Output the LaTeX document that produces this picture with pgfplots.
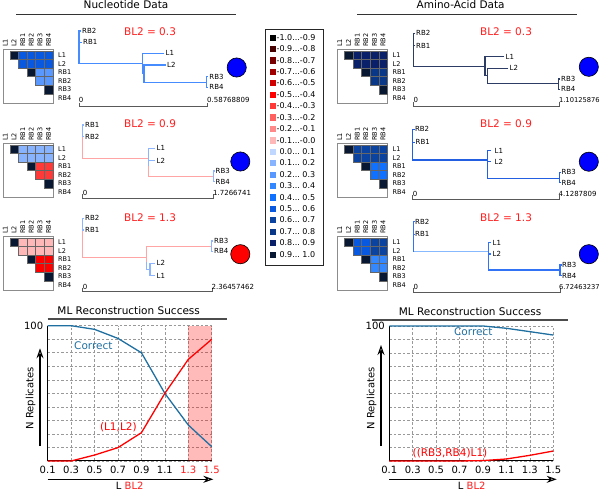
\documentclass[border=0pt]{standalone}
\usepackage{pgfplots}
\pgfplotsset{compat=1.18}
\usepackage{fontspec}
\setmainfont{DejaVu Sans}
\usetikzlibrary{arrows.meta}

% legend / heat colours, from -1.0 (c0) to 1.0 (c19)
\definecolor{c0}{RGB}{0,0,0}
\definecolor{c1}{RGB}{70,0,0}
\definecolor{c2}{RGB}{120,0,0}
\definecolor{c3}{RGB}{160,0,0}
\definecolor{c4}{RGB}{208,0,0}
\definecolor{c5}{RGB}{255,0,0}
\definecolor{c6}{RGB}{255,56,56}
\definecolor{c7}{RGB}{255,96,96}
\definecolor{c8}{RGB}{255,136,136}
\definecolor{c9}{RGB}{255,184,184}
\definecolor{c10}{RGB}{192,216,255}
\definecolor{c11}{RGB}{136,180,255}
\definecolor{c12}{RGB}{88,152,255}
\definecolor{c13}{RGB}{51,136,255}
\definecolor{c14}{RGB}{16,112,255}
\definecolor{c15}{RGB}{8,88,224}
\definecolor{c16}{RGB}{10,68,160}
\definecolor{c17}{RGB}{10,56,136}
\definecolor{c18}{RGB}{10,32,104}
\definecolor{c19}{RGB}{8,24,50}

\definecolor{nb}{RGB}{70,140,255}
\definecolor{nl}{RGB}{140,180,255}
\definecolor{pk}{RGB}{255,165,165}
\definecolor{aa}{RGB}{45,60,100}
\definecolor{ab}{RGB}{35,95,225}
\definecolor{ac}{RGB}{50,115,245}
\definecolor{al}{RGB}{135,185,255}
\definecolor{bred}{RGB}{255,30,30}
\definecolor{tl1}{RGB}{31,111,160}

\newcommand{\fs}[1]{\fontsize{#1}{#1}\selectfont}

\tikzset{
  br/.style={line width=1.3pt},
  sb/.style={line width=0.9pt, color=black!65},
  tlab/.style={font=\fs{7}, anchor=west, inner sep=0.5pt},
  hl/.style={font=\fs{6.5}, anchor=west, inner sep=0.5pt},
  cl/.style={font=\fs{6.5}, anchor=west, rotate=90, inner sep=0.5pt},
  bl/.style={font=\fs{10.5}, text=bred},
  lt/.style={font=\fs{8}, anchor=west, inner sep=0pt},
}
\pgfplotsset{hc/.style={only marks, mark=square*, mark size=4.33,
  mark options={draw=black!60, line width=0.3pt, fill=#1}}}

% one heat map: x offset, y offset, L-RB colour (RB1,RB2), L-RB colour (RB3,RB4), RB-RB colour
\newcommand{\heat}[5]{%
\addplot[hc=c19] table[row sep=\\, x expr=\thisrow{c}*8.65+5.35+#1, y expr=\thisrow{r}*8.65+55+#2] {c r\\ 1 0\\ 3 2\\ 5 4\\};
\addplot[hc=#3] table[row sep=\\, x expr=\thisrow{c}*8.65+5.35+#1, y expr=\thisrow{r}*8.65+55+#2] {c r\\ 2 0\\ 3 0\\ 2 1\\ 3 1\\};
\addplot[hc=#4] table[row sep=\\, x expr=\thisrow{c}*8.65+5.35+#1, y expr=\thisrow{r}*8.65+55+#2] {c r\\ 4 0\\ 5 0\\ 4 1\\ 5 1\\};
\addplot[hc=#5] table[row sep=\\, x expr=\thisrow{c}*8.65+5.35+#1, y expr=\thisrow{r}*8.65+55+#2] {c r\\ 4 2\\ 5 2\\ 4 3\\ 5 3\\};
\addplot[draw=black!45, line width=0.8pt] table[row sep=\\, x expr=\thisrow{x}+#1, y expr=\thisrow{y}+#2] {x y\\ 3.3 49.3\\ 53.3 49.3\\ 53.3 103.3\\ 3.3 103.3\\ 3.3 49.3\\};
\node[xshift=#1pt,yshift=-#2pt,hl] at (axis cs:57.5,55) {L1};
\node[xshift=#1pt,yshift=-#2pt,hl] at (axis cs:57.5,63.65) {L2};
\node[xshift=#1pt,yshift=-#2pt,hl] at (axis cs:57.5,72.3) {RB1};
\node[xshift=#1pt,yshift=-#2pt,hl] at (axis cs:57.5,80.95) {RB2};
\node[xshift=#1pt,yshift=-#2pt,hl] at (axis cs:57.5,89.6) {RB3};
\node[xshift=#1pt,yshift=-#2pt,hl] at (axis cs:57.5,98.25) {RB4};
\node[xshift=#1pt,yshift=-#2pt,cl] at (axis cs:5.35,47.5) {L1};
\node[xshift=#1pt,yshift=-#2pt,cl] at (axis cs:14,47.5) {L2};
\node[xshift=#1pt,yshift=-#2pt,cl] at (axis cs:22.65,47.5) {RB1};
\node[xshift=#1pt,yshift=-#2pt,cl] at (axis cs:31.3,47.5) {RB2};
\node[xshift=#1pt,yshift=-#2pt,cl] at (axis cs:39.95,47.5) {RB3};
\node[xshift=#1pt,yshift=-#2pt,cl] at (axis cs:48.6,47.5) {RB4};
}

% one legend entry: colour, y, text
\newcommand{\lgd}[3]{%
\addplot[only marks, mark=square*, mark size=2.6, mark options={draw=#1, fill=#1}] coordinates {(272.5,#2)};
\node[lt] at (axis cs:276.5,#2) {#3};
}

\begin{document}
\begin{tikzpicture}
\path[use as bounding box] (0,0) rectangle (600pt,490pt);

% ---------------- page in pixel coordinates ----------------
\begin{axis}[name=bg, at={(0pt,0pt)}, anchor=south west, scale only axis,
  width=600pt, height=490pt, xmin=0, xmax=600, ymin=0, ymax=490,
  y dir=reverse, hide axis, clip=false, unbounded coords=jump]

% titles
\node[font=\fs{10.5}, anchor=base] at (axis cs:126,8.5) {Nucleotide Data};
\node[font=\fs{10.5}, anchor=base] at (axis cs:460.7,8.5) {Amino-Acid Data};
\addplot[draw=black!80, line width=1.1pt] coordinates {(16,14.5)(236,14.5) (nan,nan) (357,14.5)(577,14.5)};

% heat maps
\heat{0}{0}{c15}{c15}{c12}
\heat{0}{94}{c11}{c11}{c6}
\heat{0}{187}{c9}{c9}{c5}
\heat{334.5}{0}{c18}{c18}{c17}
\heat{334.5}{94}{c16}{c16}{c14}
\heat{334.5}{187}{c15}{c16}{c13}

% nucleotide trees
\addplot[br, nb] coordinates {(81,31)(79,31)(79,63.3)(142.7,63.3) (nan,nan) (79,42.3)(82,42.3) (nan,nan)
  (164.3,53.3)(142.7,53.3)(142.7,73.6)(144,73.6) (nan,nan) (165.7,65)(144,65)(144,82.3)(206.7,82.3) (nan,nan)
  (208,76.7)(206.7,76.7)(206.7,87.3)(208,87.3)};
\node[tlab] at (axis cs:81.5,31) {RB2};
\node[tlab] at (axis cs:82.5,42.3) {RB1};
\node[tlab] at (axis cs:165,53.3) {L1};
\node[tlab] at (axis cs:166.5,65) {L2};
\node[tlab] at (axis cs:208.7,76.7) {RB3};
\node[tlab] at (axis cs:208.7,87.3) {RB4};
\addplot[sb] coordinates {(79,102.5)(79,106.7)(207.7,106.7)(207.7,102.5)};
\node[tlab] at (axis cs:78.2,100) {0};
\node[tlab] at (axis cs:206.5,100) {0.58768809};
\node[bl] at (axis cs:150,31.7) {BL2 = 0.3};

\addplot[br, pk] coordinates {(82.7,136.7)(82.7,158.3)(148.3,158.3) (nan,nan) (148.3,166)(148.3,176.7)(213.3,176.7)};
\addplot[br, nl] coordinates {(84,125)(82.7,125)(82.7,136.7)(84,136.7) (nan,nan) (155,148.3)(148.3,148.3)(148.3,166)
  (nan,nan) (155,160.7)(148.3,160.7) (nan,nan) (214.5,171)(213.3,171)(213.3,181.7)(214.5,181.7)};
\node[tlab] at (axis cs:84.5,125) {RB1};
\node[tlab] at (axis cs:84.5,136.7) {RB2};
\node[tlab] at (axis cs:156,148.3) {L1};
\node[tlab] at (axis cs:156,160.7) {L2};
\node[tlab] at (axis cs:215,171) {RB3};
\node[tlab] at (axis cs:215,181.7) {RB4};
\addplot[sb] coordinates {(82.7,194.3)(82.7,198.3)(213.3,198.3)(213.3,194.3)};
\node[tlab] at (axis cs:82.2,193.3) {0};
\node[tlab] at (axis cs:212.5,193.3) {1.7266741};
\node[bl] at (axis cs:150,124) {BL2 = 0.9};

\addplot[br, pk] coordinates {(82.7,230)(82.7,257.7)(146.7,257.7) (nan,nan) (146.7,262)(146.7,246.7)(211.7,246.7)};
\addplot[br, nl] coordinates {(84,218.3)(82.7,218.3)(82.7,230)(84,230) (nan,nan) (146.7,262)(146.7,269.3)(150,269.3)
  (nan,nan) (155,263.3)(150,263.3)(150,275.7)(155,275.7) (nan,nan) (213,241)(211.7,241)(211.7,251.3)(213,251.3)};
\node[tlab] at (axis cs:84.5,218.3) {RB2};
\node[tlab] at (axis cs:84.5,230) {RB1};
\node[tlab] at (axis cs:213.5,241) {RB3};
\node[tlab] at (axis cs:213.5,251.3) {RB4};
\node[tlab] at (axis cs:156,263.3) {L2};
\node[tlab] at (axis cs:156,275.7) {L1};
\addplot[sb] coordinates {(82.7,287.7)(82.7,291.7)(212.3,291.7)(212.3,287.7)};
\node[tlab] at (axis cs:82.2,287.3) {0};
\node[tlab] at (axis cs:211,287.3) {2.36457462};
\node[bl] at (axis cs:150,217.3) {BL2 = 1.3};

% amino-acid trees
\addplot[br, aa] coordinates {(415,33.3)(413.3,33.3)(413.3,66.7)(485,66.7) (nan,nan) (413.3,45.7)(415,45.7) (nan,nan)
  (504,56.7)(485,56.7)(485,75.8)(487.7,75.8) (nan,nan) (508.3,68.3)(487.7,68.3)(487.7,83.3)(558.3,83.3) (nan,nan)
  (560,79)(558.3,79)(558.3,89.3)(560,89.3)};
\node[tlab] at (axis cs:415.5,33.3) {RB2};
\node[tlab] at (axis cs:415.5,45.7) {RB1};
\node[tlab] at (axis cs:505,56.7) {L1};
\node[tlab] at (axis cs:509,68.3) {L2};
\node[tlab] at (axis cs:560.5,79) {RB3};
\node[tlab] at (axis cs:560.5,89.3) {RB4};
\addplot[sb] coordinates {(413.3,102)(413.3,106)(559.3,106)(559.3,102)};
\node[tlab] at (axis cs:412.8,100) {0};
\node[tlab, font=\fs{6.7}] at (axis cs:558.4,100) {1.10125876};
\node[bl] at (axis cs:506,31.7) {BL2 = 0.3};

\addplot[br, ab] coordinates {(414.5,129.3)(412.7,129.3)(412.7,160)(487.3,160) (nan,nan) (412.7,142.3)(414.5,142.3) (nan,nan)
  (491,150.7)(487.3,150.7)(487.3,178.3)(559.3,178.3) (nan,nan) (487.3,161.7)(491,161.7) (nan,nan)
  (561,172.3)(559.3,172.3)(559.3,182.7)(561,182.7)};
\node[tlab] at (axis cs:414.3,129.3) {RB2};
\node[tlab] at (axis cs:415,142.3) {RB1};
\node[tlab] at (axis cs:494,150.7) {L1};
\node[tlab] at (axis cs:494,161.7) {L2};
\node[tlab] at (axis cs:561,172.3) {RB3};
\node[tlab] at (axis cs:561,182.7) {RB4};
\addplot[sb] coordinates {(412.7,195.3)(412.7,199.3)(559.5,199.3)(559.5,195.3)};
\node[tlab] at (axis cs:412.2,194.3) {0};
\node[tlab] at (axis cs:558,194.3) {4.1287809};
\node[bl] at (axis cs:506,124) {BL2 = 0.9};

\addplot[br, al] coordinates {(413.3,251.7)(488.3,251.7)};
\addplot[br, ac] coordinates {(415,221.7)(413.3,221.7)(413.3,251.7) (nan,nan) (413.3,234.3)(415,234.3) (nan,nan)
  (491,242.7)(488.3,242.7)(488.3,270)(560,270) (nan,nan) (488.3,254)(491,254) (nan,nan)
  (561.5,265)(560,265)(560,275.7)(561.5,275.7)};
\node[tlab] at (axis cs:414.5,221.7) {RB2};
\node[tlab] at (axis cs:414.5,234.3) {RB1};
\node[tlab] at (axis cs:492,242.7) {L1};
\node[tlab] at (axis cs:492,254) {L2};
\node[tlab] at (axis cs:561.5,265) {RB3};
\node[tlab] at (axis cs:561.5,275.7) {RB4};
\addplot[sb] coordinates {(413.3,288)(413.3,292)(560,292)(560,288)};
\node[tlab] at (axis cs:412.8,287.3) {0};
\node[tlab, font=\fs{6.7}] at (axis cs:558.4,287.3) {6.72463237};
\node[bl] at (axis cs:506,217.3) {BL2 = 1.3};

% result circles
\addplot[only marks, mark=*, mark size=9.6, mark options={fill=blue, draw=black, line width=0.6pt}]
  coordinates {(236.7,67.5)(240.3,161.5)(588.8,66.8)(588.8,161.7)(588.8,254.2)};
\addplot[only marks, mark=*, mark size=9.6, mark options={fill=red, draw=black, line width=0.6pt}]
  coordinates {(240.3,254.2)};

% colour legend
\addplot[draw=black!85, line width=0.9pt] coordinates {(265,29)(323,29)(323,265)(265,265)(265,29)};
\lgd{c0}{37.3}{-1.0...-0.9}
\lgd{c1}{48.7}{-0.9...-0.8}
\lgd{c2}{60.1}{-0.8...-0.7}
\lgd{c3}{71.6}{-0.7...-0.6}
\lgd{c4}{83.0}{-0.6...-0.5}
\lgd{c5}{94.4}{-0.5...-0.4}
\lgd{c6}{105.8}{-0.4...-0.3}
\lgd{c7}{117.2}{-0.3...-0.2}
\lgd{c8}{128.7}{-0.2...-0.1}
\lgd{c9}{140.1}{-0.1...-0.0}
\lgd{c10}{151.5}{\hphantom{-}0.0...\ 0.1}
\lgd{c11}{162.9}{\hphantom{-}0.1...\ 0.2}
\lgd{c12}{174.3}{\hphantom{-}0.2...\ 0.3}
\lgd{c13}{185.8}{\hphantom{-}0.3...\ 0.4}
\lgd{c14}{197.2}{\hphantom{-}0.4...\ 0.5}
\lgd{c15}{208.6}{\hphantom{-}0.5...\ 0.6}
\lgd{c16}{220.0}{\hphantom{-}0.6...\ 0.7}
\lgd{c17}{231.4}{\hphantom{-}0.7...\ 0.8}
\lgd{c18}{242.9}{\hphantom{-}0.8...\ 0.9}
\lgd{c19}{254.3}{\hphantom{-}0.9...\ 1.0}

% chart titles, labels and arrows
\node[font=\fs{10.5}, anchor=base] at (axis cs:128.7,314.3) {ML Reconstruction Success};
\node[font=\fs{10.5}, anchor=base] at (axis cs:470,315.5) {ML Reconstruction Success};
\addplot[draw=black!70, line width=1.3pt] coordinates {(47.7,319)(226.7,319) (nan,nan) (371.7,320)(568.3,320)};
\node[font=\fs{10}, rotate=90] at (axis cs:30.7,398.3) {N Replicates};
\node[font=\fs{10}, rotate=90] at (axis cs:371.7,398.3) {N Replicates};
\addplot[line width=1.1pt, -{Stealth[open, length=10pt, width=7pt]}] coordinates {(40,446)(40,348.3)};
\addplot[line width=1.1pt, -{Stealth[open, length=10pt, width=7pt]}] coordinates {(381,446)(381,345)};
\addplot[line width=1.1pt, -{Stealth[open, length=10pt, width=7pt]}] coordinates {(47.7,479.3)(213.3,479.3)};
\addplot[line width=1.1pt, -{Stealth[open, length=10pt, width=7pt]}] coordinates {(389.3,479.3)(556.7,479.3)};
\node[font=\fs{10}, anchor=base] at (axis cs:129.7,489) {L \textcolor{bred}{BL2}};
\node[font=\fs{10}, anchor=base] at (axis cs:471.7,489) {L \textcolor{bred}{BL2}};
\end{axis}

% ---------------- nucleotide success ----------------
\begin{axis}[at={(47.7pt,29pt)}, anchor=south west, scale only axis,
  width=164pt, height=135.3pt,
  xmin=0.1, xmax=1.5, ymin=0, ymax=100, clip=false,
  xtick={0.1,0.3,0.5,0.7,0.9,1.1,1.3,1.5},
  xticklabels={0.1,0.3,0.5,0.7,0.9,1.1,\textcolor{bred}{1.3},\textcolor{bred}{1.5}},
  ytick={0,10,20,30,40,50,60,70,80,90,100},
  yticklabels={,,,,,,,,,,100},
  major tick length=0pt,
  grid=major, grid style={gray!80, line width=0.6pt, dash pattern=on 2.5pt off 2pt},
  axis x line*=bottom, axis y line*=left,
  axis line style={line width=1pt, black},
  tick label style={font=\fs{10}},
  xticklabel style={yshift=-2pt},
  yticklabel style={xshift=-1pt}]
\addplot[fill=red, fill opacity=0.27, draw=none] coordinates {(1.3,0)(1.5,0)(1.5,100)(1.3,100)} --cycle;
\addplot[tl1, line width=1.3pt] coordinates {(0.1,100)(0.3,100)(0.5,97.3)(0.7,90.6)(0.9,80)(1.1,50)(1.3,26.6)(1.5,10.6)};
\addplot[red, line width=1.3pt] coordinates {(0.1,0)(0.3,0)(0.5,4.4)(0.7,9.9)(0.9,20.9)(1.1,50)(1.3,75.1)(1.5,89.9)};
\node[font=\fs{10.5}, text=tl1] at (axis cs:0.49,85) {Correct};
\node[font=\fs{10.5}, text=red] at (axis cs:0.703,24.9) {(L1,L2)};
\end{axis}

% ---------------- amino-acid success ----------------
\begin{axis}[at={(389.3pt,29pt)}, anchor=south west, scale only axis,
  width=164pt, height=135pt,
  xmin=0.1, xmax=1.5, ymin=0, ymax=100, clip=false,
  xtick={0.1,0.3,0.5,0.7,0.9,1.1,1.3,1.5},
  xticklabels={0.1,0.3,0.5,0.7,0.9,1.1,1.3,1.5},
  ytick={0,10,20,30,40,50,60,70,80,90,100},
  yticklabels={,,,,,,,,,,100},
  major tick length=0pt,
  grid=major, grid style={gray!80, line width=0.6pt, dash pattern=on 2.5pt off 2pt},
  axis x line*=bottom, axis y line*=left,
  axis line style={line width=1pt, black},
  tick label style={font=\fs{10}},
  xticklabel style={yshift=-2pt},
  yticklabel style={xshift=-1pt}]
\addplot[tl1, line width=1.3pt] coordinates {(0.1,100)(0.3,100)(0.5,100)(0.7,100)(0.9,100)(1.1,98.3)(1.3,95.8)(1.5,93.3)};
\addplot[red, line width=1.3pt] coordinates {(0.1,0)(0.3,0)(0.5,0)(0.7,0)(0.9,0.3)(1.1,1.5)(1.3,4.2)(1.5,7.4)};
\node[font=\fs{10.5}, text=tl1] at (axis cs:0.817,95.5) {Correct};
\node[font=\fs{10.5}, text=red] at (axis cs:0.618,6.1) {((RB3,RB4)L1)};
\end{axis}
\end{tikzpicture}
\end{document}
